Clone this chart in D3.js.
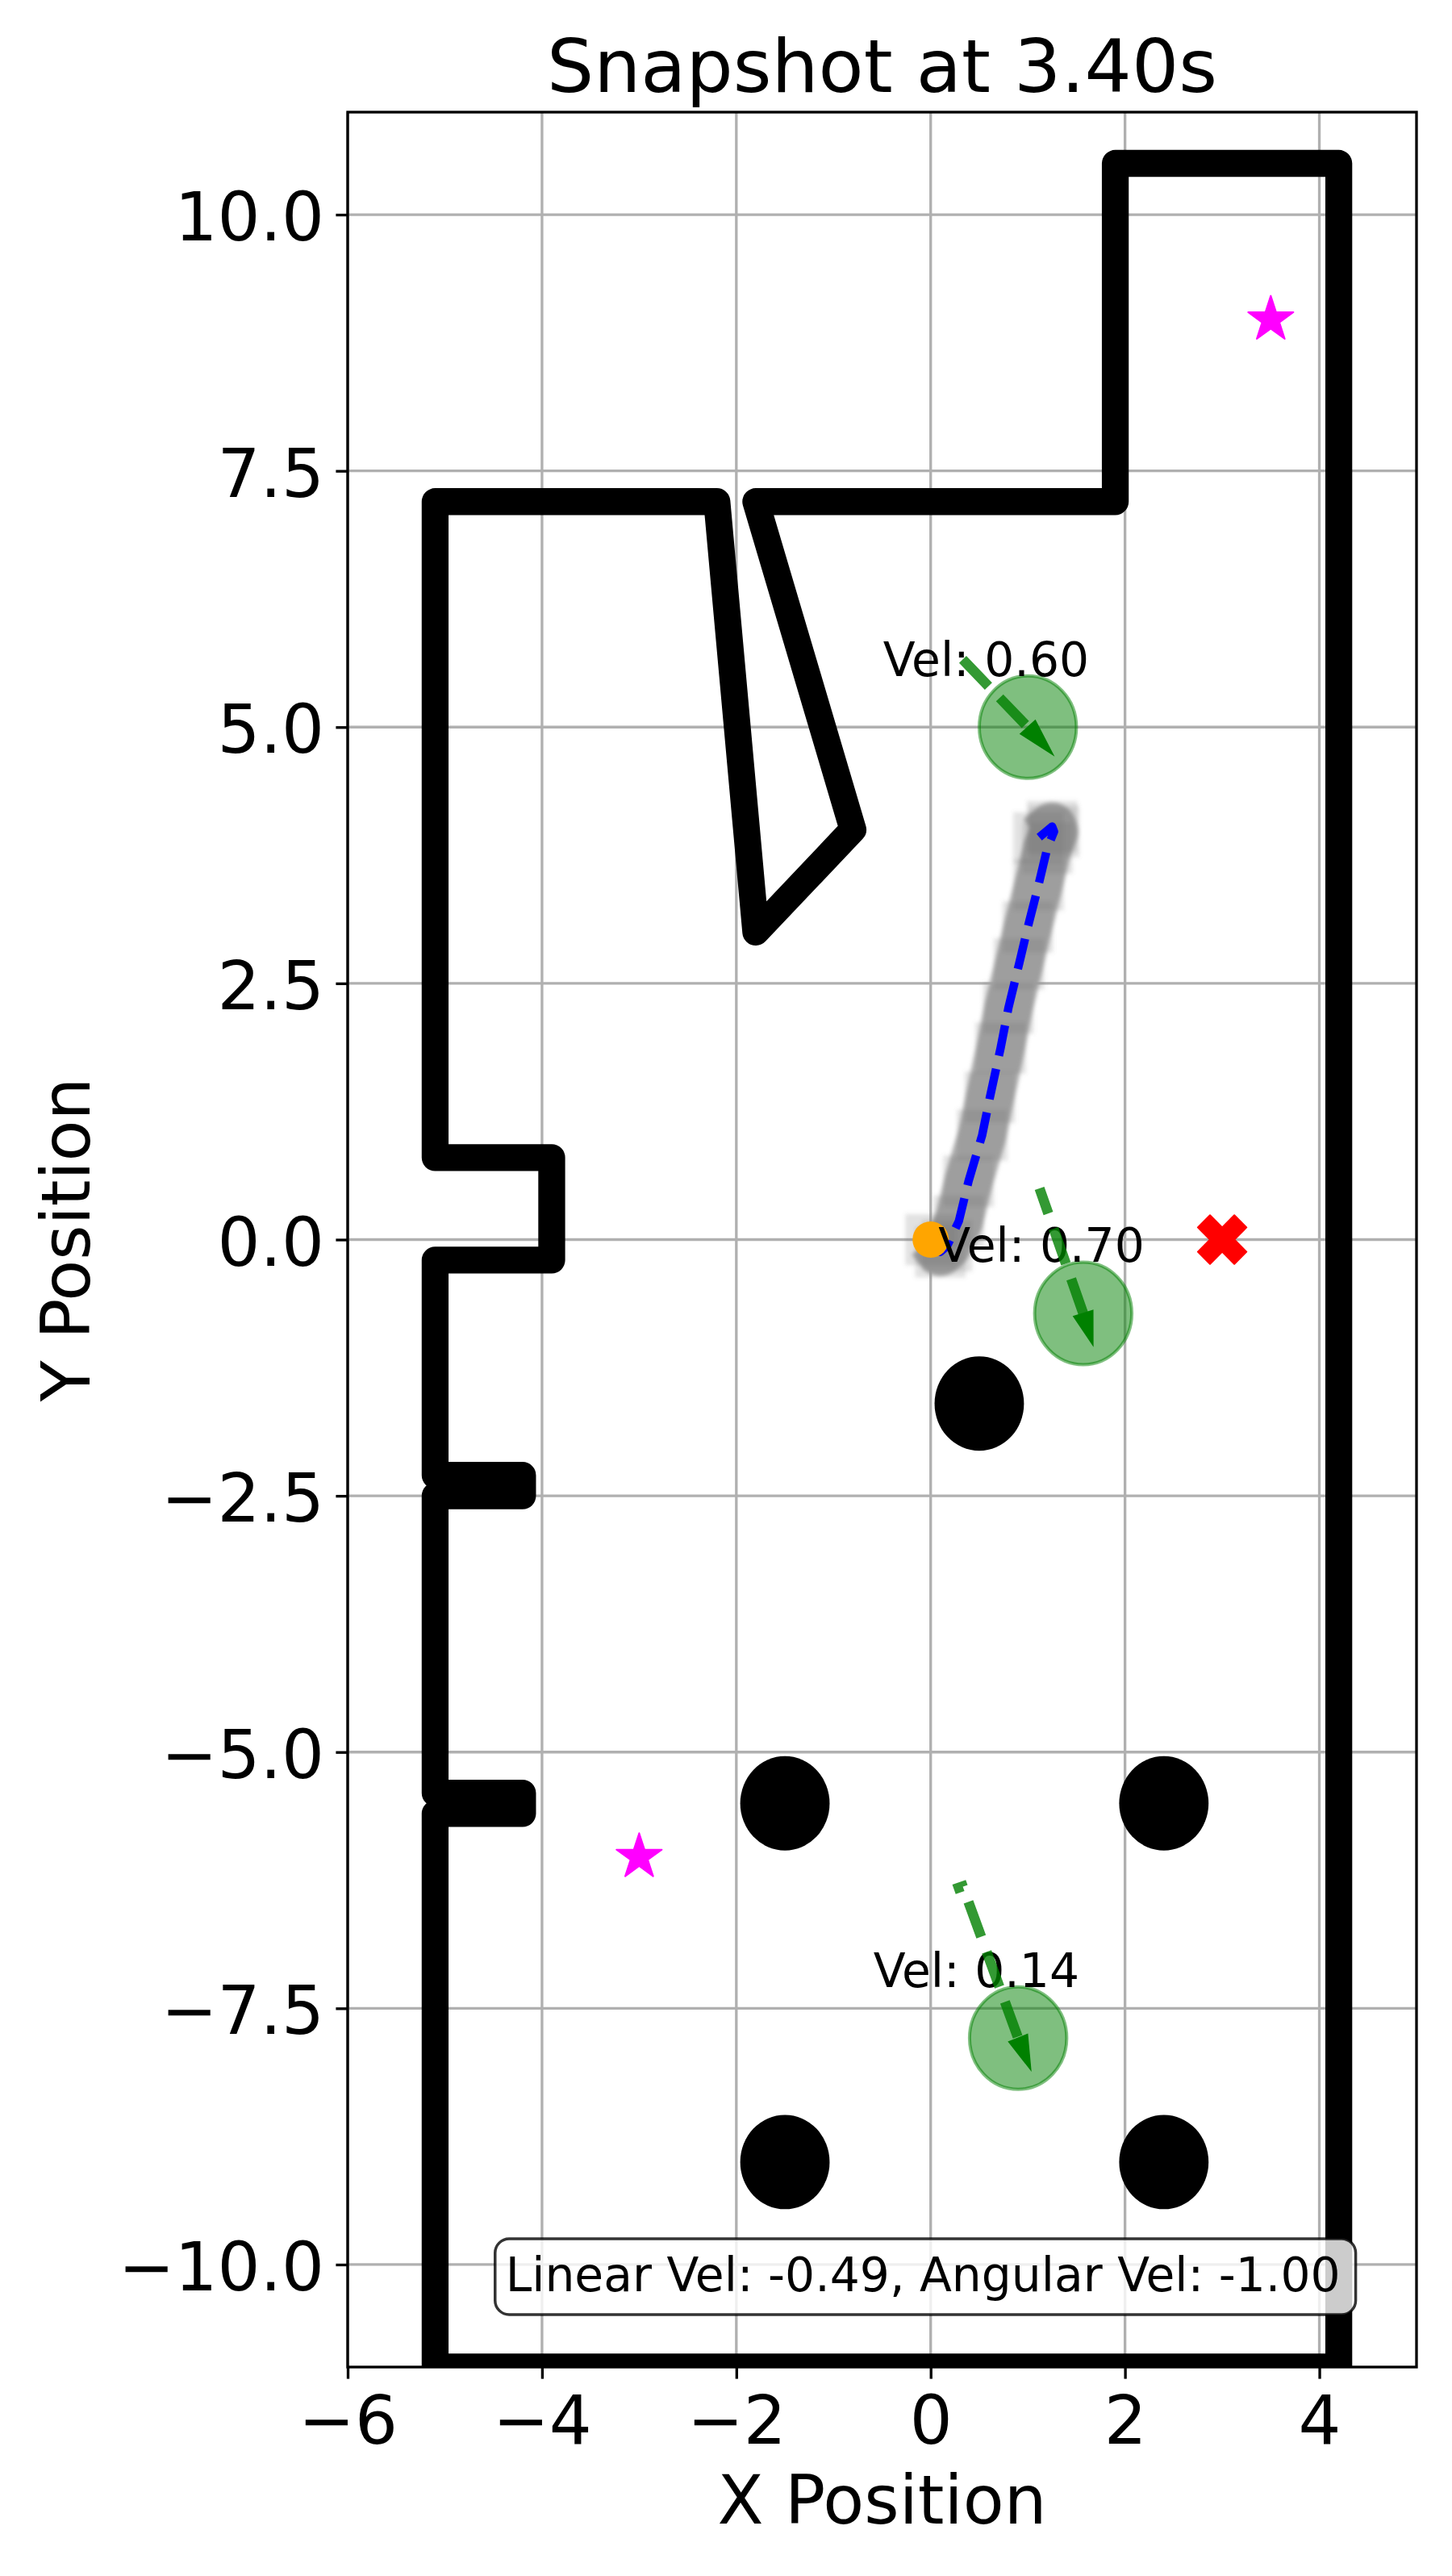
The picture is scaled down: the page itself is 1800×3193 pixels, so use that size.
<!DOCTYPE html>
<html>
<head>
<meta charset="utf-8">
<script src="https://cdn.jsdelivr.net/npm/d3@7"></script>
<style>
  body { margin: 0; background: #fff; }
  text { font-family: "DejaVu Sans", sans-serif; }
</style>
</head>
<body>
<div class="chart"></div>
<script>
var snapshotTime = 3.40;

// wall outline, drawn as one polyline
var wallX = [-5.1, 4.2, 4.2, 1.9, 1.9, -1.8, -0.8, -1.8, -2.2, -5.1, -5.1, -3.9, -3.9, -5.1, -5.1, -4.2, -4.2, -5.1, -5.1, -4.2, -4.2, -5.1, -5.1];
var wallY = [-11, -11, 10.5, 10.5, 7.2, 7.2, 4.0, 3.0, 7.2, 7.2, 0.8, 0.8, -0.2, -0.2, -2.3, -2.3, -2.5, -2.5, -5.4, -5.4, -5.6, -5.6, -11];

// round static obstacles
var obstacleX = [0.5, -1.5, 2.4, -1.5, 2.4];
var obstacleY = [-1.6, -5.5, -5.5, -9.0, -9.0];
var obstacleRadius = 0.46;

// robot path so far
var robotX = [0.00, 0.10, 0.17, 0.29, 0.39, 0.53, 0.61, 0.72, 0.80, 0.91, 1.00, 1.11, 1.20, 1.27, 1.25, 1.11];
var robotY = [0.00, -0.12, -0.06, 0.18, 0.57, 1.02, 1.39, 1.87, 2.26, 2.69, 3.05, 3.46, 3.82, 3.98, 4.03, 3.92];

var goalX = [3.0], goalY = [0.0];
var waypointX = [3.5, -3.0];
var waypointY = [9.0, -6.0];

// pedestrians
var pedX = [1.0, 1.57, 0.9];
var pedY = [5.0, -0.72, -7.79];
var pedVel = [0.60, 0.70, 0.14];
var pedArrowDX = [0.26, 0.10, 0.13];
var pedArrowDY = [-0.27, -0.31, -0.31];
var pedTrails = [
  [[0.33, 5.66], [1.0, 5.0]],
  [[1.12, 0.50], [1.57, -0.72]],
  [[0.24, -6.34], [0.33, -6.31], [0.9, -7.79]]
];
var pedRadius = 0.5;

var linearVel = -0.49, angularVel = -1.00;

var xTicks = [-6, -4, -2, 0, 2, 4];
var yTicks = [-10, -7.5, -5, -2.5, 0, 2.5, 5, 7.5, 10];

// ---- layout ----
var W = 1800, H = 3193;
var axL = 431, axR = 1756, axT = 139, axB = 2934;
var lw = 3.33;               // 0.8pt at 300dpi
var trailOffsets = [0, 13, 34];

var x = d3.scaleLinear().domain([-6, 5]).range([axL, axR]);
var y = d3.scaleLinear().domain([-11, 11]).range([axB, axT]);

var svg = d3.select(".chart")
  .append("svg")
  .attr("width", W)
  .attr("height", H);

var defs = svg.append("defs");
defs.append("clipPath").attr("id", "plotclip")
  .append("rect")
  .attr("x", axL).attr("y", axT)
  .attr("width", axR - axL).attr("height", axB - axT);
defs.append("filter").attr("id", "soft")
  .attr("x", "-20%").attr("y", "-20%").attr("width", "140%").attr("height", "140%")
  .append("feGaussianBlur").attr("stdDeviation", 2.5);

// grid
var grid = svg.append("g");
grid.selectAll("line.gx")
  .data(xTicks)
  .enter().append("line")
    .attr("x1", function (d) { return x(d); })
    .attr("x2", function (d) { return x(d); })
    .attr("y1", axT).attr("y2", axB)
    .attr("stroke", "#b0b0b0").attr("stroke-width", lw);
grid.selectAll("line.gy")
  .data(yTicks)
  .enter().append("line")
    .attr("y1", function (d) { return y(d); })
    .attr("y2", function (d) { return y(d); })
    .attr("x1", axL).attr("x2", axR)
    .attr("stroke", "#b0b0b0").attr("stroke-width", lw);

var plot = svg.append("g").attr("clip-path", "url(#plotclip)");

// walls
var wallPts = wallX.map(function (d, i) { return [d, wallY[i]]; });
var line = d3.line()
  .x(function (d) { return x(d[0]); })
  .y(function (d) { return y(d[1]); });

plot.append("path")
  .attr("d", line(wallPts))
  .attr("fill", "none")
  .attr("stroke", "#000")
  .attr("stroke-width", 33.3)
  .attr("stroke-linejoin", "round");

// obstacles
plot.selectAll("ellipse.obs")
  .data(obstacleX)
  .enter().append("ellipse")
    .attr("cx", function (d) { return x(d); })
    .attr("cy", function (d, i) { return y(obstacleY[i]); })
    .attr("rx", x(obstacleRadius) - x(0))
    .attr("ry", y(0) - y(obstacleRadius))
    .attr("fill", "#000");

// robot footprint trail
var robotPts = robotX.map(function (d, i) { return [d, robotY[i]]; });
var foot = plot.append("g").attr("filter", "url(#soft)");
foot.append("path")
  .attr("d", line(robotPts))
  .attr("fill", "none")
  .attr("stroke", "#ababab")
  .attr("stroke-width", 60)
  .attr("stroke-linejoin", "round");
var fw = x(0.26) - x(0), fh = y(0) - y(0.25);
foot.selectAll("rect")
  .data(robotPts)
  .enter().append("rect")
    .attr("x", function (d) { return x(d[0]) - fw; })
    .attr("y", function (d) { return y(d[1]) - fh; })
    .attr("width", 2 * fw)
    .attr("height", 2 * fh)
    .attr("fill", "#6e6e6e")
    .attr("fill-opacity", 0.2);

// robot path
plot.append("path")
  .attr("d", line(robotPts))
  .attr("fill", "none")
  .attr("stroke", "#0000ff")
  .attr("stroke-width", 10.4)
  .attr("stroke-dasharray", "38.5,16.6")
  .attr("stroke-linejoin", "round");

// robot start position
plot.append("circle")
  .attr("cx", x(robotX[0]))
  .attr("cy", y(robotY[0]))
  .attr("r", 22.5)
  .attr("fill", "#ffa500");

// goal marker (filled X)
var s = 64;
var plus = [[-1, -3], [1, -3], [1, -1], [3, -1], [3, 1], [1, 1], [1, 3], [-1, 3], [-1, 1], [-3, 1], [-3, -1], [-1, -1]];
var xMark = plus.map(function (p) {
  var a = Math.PI / 4;
  return [(p[0] * Math.cos(a) - p[1] * Math.sin(a)) * s / 6,
          (p[0] * Math.sin(a) + p[1] * Math.cos(a)) * s / 6];
});
plot.selectAll("path.goal")
  .data(goalX)
  .enter().append("path")
    .attr("d", "M" + xMark.join("L") + "Z")
    .attr("transform", function (d, i) { return "translate(" + x(d) + "," + y(goalY[i]) + ")"; })
    .attr("fill", "#ff0000")
    .attr("stroke", "#ff0000")
    .attr("stroke-width", 2)
    .attr("stroke-linejoin", "round");

// waypoint stars
var R = 29.5, r = R * 0.381966;
var star = d3.range(10).map(function (k) {
  var a = -Math.PI / 2 + k * Math.PI / 5, rr = k % 2 ? r : R;
  return [rr * Math.cos(a), rr * Math.sin(a)];
});
plot.selectAll("path.star")
  .data(waypointX)
  .enter().append("path")
    .attr("d", "M" + star.join("L") + "Z")
    .attr("transform", function (d, i) { return "translate(" + x(d) + "," + (y(waypointY[i]) + 3) + ")"; })
    .attr("fill", "#ff00ff")
    .attr("stroke", "#ff00ff")
    .attr("stroke-width", 2)
    .attr("stroke-linejoin", "round");

// pedestrians
plot.selectAll("ellipse.ped")
  .data(pedX)
  .enter().append("ellipse")
    .attr("cx", function (d) { return x(d); })
    .attr("cy", function (d, i) { return y(pedY[i]); })
    .attr("rx", x(pedRadius) - x(0))
    .attr("ry", y(0) - y(pedRadius))
    .attr("fill", "green")
    .attr("fill-opacity", 0.5)
    .attr("stroke", "green")
    .attr("stroke-opacity", 0.5)
    .attr("stroke-width", 4);

plot.selectAll("text.vel")
  .data(pedVel)
  .enter().append("text")
    .attr("x", function (d, i) { return x(pedX[i] - 0.43); })
    .attr("y", function (d, i) { return y(pedY[i] + 0.5); })
    .attr("text-anchor", "middle")
    .attr("font-size", 58.3)
    .text(function (d) { return "Vel: " + d3.format(".2f")(d); });

plot.selectAll("path.trail")
  .data(pedTrails)
  .enter().append("path")
    .attr("d", function (d) { return line(d); })
    .attr("fill", "none")
    .attr("stroke", "green")
    .attr("stroke-opacity", 0.8)
    .attr("stroke-width", 12.5)
    .attr("stroke-dasharray", "46,20")
    .attr("stroke-dashoffset", function (d, i) { return trailOffsets[i]; });

plot.selectAll("path.head")
  .data(pedX)
  .enter().append("path")
    .attr("d", function (d, i) {
      var bx = x(d), by = y(pedY[i]);
      var tx = x(d + pedArrowDX[i]), ty = y(pedY[i] + pedArrowDY[i]);
      var len = Math.hypot(tx - bx, ty - by);
      var nx = -(ty - by) / len * 12.5, ny = (tx - bx) / len * 12.5;
      return "M" + tx + "," + ty + "L" + (bx + nx) + "," + (by + ny) + "L" + (bx - nx) + "," + (by - ny) + "Z";
    })
    .attr("fill", "green")
    .attr("stroke", "green")
    .attr("stroke-width", 1.5);

// spines
svg.append("rect")
  .attr("x", axL).attr("y", axT)
  .attr("width", axR - axL).attr("height", axB - axT)
  .attr("fill", "none")
  .attr("stroke", "#000")
  .attr("stroke-width", lw);

// axes
var axisBottom = d3.axisBottom(x)
  .tickValues(xTicks)
  .tickSize(14.6)
  .tickPadding(21);
var axisLeft = d3.axisLeft(y)
  .tickValues(yTicks)
  .tickFormat(d3.format(".1f"))
  .tickSize(14.6)
  .tickPadding(14.4);

var gx = svg.append("g")
  .attr("transform", "translate(0," + axB + ")")
  .call(axisBottom);
var gy = svg.append("g")
  .attr("transform", "translate(" + axL + ",0)")
  .call(axisLeft);

[gx, gy].forEach(function (g) {
  g.select(".domain").remove();
  g.selectAll(".tick line").attr("stroke", "#000").attr("stroke-width", lw);
  g.selectAll(".tick text")
    .attr("fill", "#000")
    .attr("font-size", 83.3)
    .attr("font-family", "DejaVu Sans");
});
gy.selectAll(".tick text").attr("dy", "0.38em");

// titles
svg.append("text")
  .attr("x", (axL + axR) / 2)
  .attr("y", 114)
  .attr("text-anchor", "middle")
  .attr("font-size", 91.7)
  .text("Snapshot at " + snapshotTime.toFixed(2) + "s");

svg.append("text")
  .attr("x", (axL + axR) / 2)
  .attr("y", 3128)
  .attr("text-anchor", "middle")
  .attr("font-size", 83.3)
  .text("X Position");

svg.append("text")
  .attr("transform", "translate(111," + (axT + axB) / 2 + ") rotate(-90)")
  .attr("text-anchor", "middle")
  .attr("font-size", 83.3)
  .text("Y Position");

// velocity command box
var infoX = axL + 0.15 * (axR - axL) - 3, infoY = 2840;
var box = svg.append("rect");
var info = svg.append("text")
  .attr("x", infoX)
  .attr("y", infoY)
  .attr("font-size", 58.3)
  .text("Linear Vel: " + linearVel.toFixed(2) + ", Angular Vel: " + angularVel.toFixed(2));
var tw = info.node().getComputedTextLength();
box.attr("x", infoX - 13)
  .attr("y", infoY - 65)
  .attr("width", tw + 32)
  .attr("height", 94)
  .attr("rx", 17.5)
  .attr("fill", "#fff")
  .attr("fill-opacity", 0.8)
  .attr("stroke", "#000")
  .attr("stroke-opacity", 0.8)
  .attr("stroke-width", 3.5);
</script>
</body>
</html>
